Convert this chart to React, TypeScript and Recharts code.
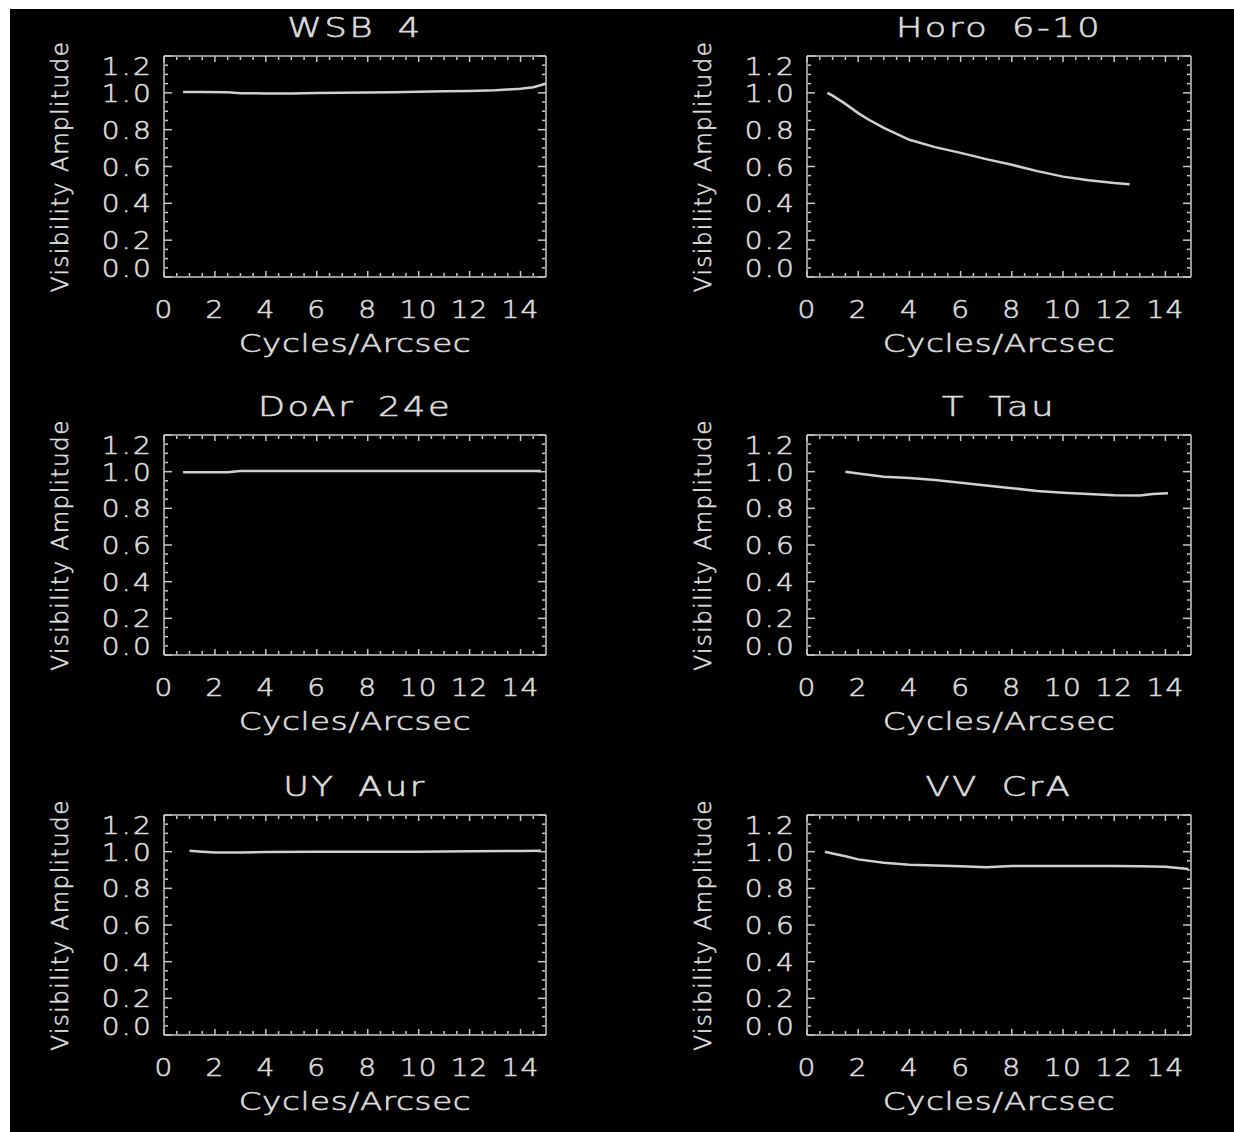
import React from "react";
import { Line, LineChart, XAxis, YAxis } from "recharts";

// visibility amplitude vs spatial frequency, one pair of arrays per star
const titles = ["WSB 4", "Horo 6-10", "DoAr 24e", "T Tau", "UY Aur", "VV CrA"];

const wsb4Freq = [0.75, 1.5, 2.5, 3, 4, 5, 6, 7, 8, 9, 10, 11, 12, 13, 13.5, 14, 14.5, 15];
const wsb4Vis = [1.005, 1.005, 1.003, 0.998, 0.997, 0.997, 0.999, 1.0, 1.002, 1.003, 1.006, 1.008, 1.01, 1.014, 1.018, 1.022, 1.03, 1.05];

const horoFreq = [0.8, 1, 1.5, 2, 2.4, 3, 4, 5, 6, 7, 8, 9, 10, 11, 12, 12.6];
const horoVis = [1.0, 0.985, 0.94, 0.89, 0.855, 0.81, 0.745, 0.705, 0.674, 0.64, 0.609, 0.575, 0.545, 0.525, 0.51, 0.503];

const doarFreq = [0.75, 1.5, 2.5, 3, 4, 6, 8, 10, 12, 14, 14.8];
const doarVis = [0.997, 0.997, 0.997, 1.003, 1.003, 1.004, 1.004, 1.004, 1.003, 1.003, 1.003];

const ttauFreq = [1.5, 2, 3, 4, 5, 6, 7, 8, 9, 10, 11, 12, 13, 13.5, 14.1];
const ttauVis = [1.0, 0.99, 0.972, 0.965, 0.955, 0.94, 0.925, 0.91, 0.895, 0.885, 0.878, 0.872, 0.87, 0.878, 0.882];

const uyaurFreq = [1, 1.5, 2, 3, 4, 6, 8, 10, 12, 14, 14.8];
const uyaurVis = [1.005, 1.0, 0.995, 0.995, 0.998, 1.0, 1.0, 1.0, 1.002, 1.004, 1.005];

const vvcraFreq = [0.7, 1, 1.5, 2, 3, 4, 5, 6, 7, 8, 9, 10, 11, 12, 13, 14, 14.9];
const vvcraVis = [1.0, 0.99, 0.975, 0.958, 0.94, 0.928, 0.924, 0.92, 0.915, 0.922, 0.922, 0.922, 0.922, 0.922, 0.92, 0.918, 0.905];

const xTicks = [0, 2, 4, 6, 8, 10, 12, 14];
const xMinorTicks = [0.5, 1, 1.5, 2.5, 3, 3.5, 4.5, 5, 5.5, 6.5, 7, 7.5, 8.5, 9, 9.5, 10.5, 11, 11.5, 12.5, 13, 13.5, 14.5];
const yTicks = [0, 0.2, 0.4, 0.6, 0.8, 1.0, 1.2];
const yMinorTicks = [0.05, 0.1, 0.15, 0.25, 0.3, 0.35, 0.45, 0.5, 0.55, 0.65, 0.7, 0.75, 0.85, 0.9, 0.95, 1.05, 1.1, 1.15];

const series = [
  { freq: wsb4Freq, vis: wsb4Vis },
  { freq: horoFreq, vis: horoVis },
  { freq: doarFreq, vis: doarVis },
  { freq: ttauFreq, vis: ttauVis },
  { freq: uyaurFreq, vis: uyaurVis },
  { freq: vvcraFreq, vis: vvcraVis },
];

const FONT = "'DejaVu Sans', 'Liberation Sans', sans-serif";
const INK = "#dcdcdc";
const FRAME = "#c8c8c8";

const COLS = [
  { pl: 164, pr: 546 },
  { pl: 807, pr: 1191 },
];
const ROWS = [
  { pt: 56, pb: 277 },
  { pt: 435, pb: 655 },
  { pt: 815, pb: 1035 },
];

const ML = 44;
const YW = 110;
const MT = 50;
const XH = 90;

// thin vector-font look: extra-light face with a hairline stroke
const textStyle = { fontFamily: FONT, fontWeight: 200, fill: INK, stroke: INK, strokeWidth: 0.6 } as const;

const noLabel = () => <g />;

function XTickLabel(props: any) {
  const { x, y, payload } = props;
  return (
    <text transform={`translate(${x} ${y + 41}) scale(1.12 1)`} x={0} y={0} textAnchor="middle" fontSize={25} letterSpacing={1} {...textStyle}>
      {payload.value}
    </text>
  );
}

function YTickLabel(props: any) {
  const { x, y, payload } = props;
  const v = payload.value as number;
  const shift = v >= 1.2 ? 10 : v <= 0 ? -9 : 0;
  return (
    <text transform={`translate(${x - 11} ${y + shift + 9}) scale(1.12 1)`} x={0} y={0} textAnchor="end" fontSize={25} letterSpacing={2} {...textStyle}>
      {v.toFixed(1)}
    </text>
  );
}

function Panel({ idx }: { idx: number }) {
  const col = COLS[idx % 2];
  const row = ROWS[Math.floor(idx / 2)];
  const pw = col.pr - col.pl;
  const ph = row.pb - row.pt;
  const { freq, vis } = series[idx];
  const data = freq.map((u, i) => ({ u, v: vis[i] }));

  const titleLabel = (p: any) => {
    const vb = p.viewBox ?? { x: ML + YW, y: MT, width: pw, height: 1 };
    const cx = vb.x + vb.width / 2;
    return (
      <text
        transform={`translate(${cx} ${MT - 19}) scale(1.3 1)`}
        x={0}
        y={0}
        textAnchor="middle"
        fontSize={27}
        letterSpacing={2}
        wordSpacing={7}
        {...textStyle}
      >
        {titles[idx]}
      </text>
    );
  };
  const xLabel = (p: any) => {
    const vb = p.viewBox ?? { x: ML + YW, y: MT + ph, width: pw, height: XH };
    const cx = vb.x + vb.width / 2;
    return (
      <text transform={`translate(${cx} ${vb.y + 75}) scale(1.3 1)`} x={0} y={0} textAnchor="middle" fontSize={25} letterSpacing={0.5} {...textStyle}>
        Cycles/Arcsec
      </text>
    );
  };
  const yLabel = (p: any) => {
    const vb = p.viewBox ?? { x: ML, y: MT, width: YW, height: ph };
    const cx = vb.x + vb.width - 104;
    const cy = vb.y + vb.height / 2;
    return (
      <text
        x={cx}
        y={cy}
        transform={`rotate(-90 ${cx} ${cy})`}
        textAnchor="middle"
        dominantBaseline="central"
        fontSize={23}
        letterSpacing={1.5}
        {...textStyle}
      >
        Visibility Amplitude
      </text>
    );
  };

  const frame = { stroke: FRAME, strokeWidth: 1.5 };
  const xProps = { type: "number" as const, dataKey: "u", domain: [0, 15], allowDataOverflow: true, interval: 0 as const };
  const yProps = { type: "number" as const, dataKey: "v", domain: [0, 1.2], allowDataOverflow: true, interval: 0 as const };

  return (
    <div style={{ position: "absolute", left: col.pl - ML - YW, top: row.pt - MT }}>
      <LineChart width={pw + ML + YW + 20} height={ph + MT + XH + 5} data={data} margin={{ top: MT, right: 20, bottom: 5, left: ML }}>
        <XAxis xAxisId="main" {...xProps} ticks={xTicks} height={XH} axisLine={false} tickLine={false} tickSize={0} tickMargin={0} tick={XTickLabel} label={{ content: xLabel }} />
        <XAxis xAxisId="bMaj" {...xProps} orientation="bottom" mirror height={1} ticks={xTicks} tick={noLabel} tickSize={6} tickLine={frame} axisLine={frame} />
        <XAxis xAxisId="bMin" {...xProps} orientation="bottom" mirror height={1} ticks={xMinorTicks} tick={noLabel} tickSize={3} tickLine={frame} axisLine={false} />
        <XAxis xAxisId="tMaj" {...xProps} orientation="top" mirror height={1} ticks={xTicks} tick={noLabel} tickSize={6} tickLine={frame} axisLine={frame} label={{ content: titleLabel }} />
        <XAxis xAxisId="tMin" {...xProps} orientation="top" mirror height={1} ticks={xMinorTicks} tick={noLabel} tickSize={3} tickLine={frame} axisLine={false} />
        <YAxis yAxisId="main" {...yProps} ticks={yTicks} width={YW} axisLine={false} tickLine={false} tickSize={0} tickMargin={0} tick={YTickLabel} label={{ content: yLabel }} />
        <YAxis yAxisId="lMaj" {...yProps} orientation="left" mirror width={1} ticks={yTicks} tick={noLabel} tickSize={8} tickLine={frame} axisLine={frame} />
        <YAxis yAxisId="lMin" {...yProps} orientation="left" mirror width={1} ticks={yMinorTicks} tick={noLabel} tickSize={3} tickLine={frame} axisLine={false} />
        <YAxis yAxisId="rMaj" {...yProps} orientation="right" mirror width={1} ticks={yTicks} tick={noLabel} tickSize={8} tickLine={frame} axisLine={frame} />
        <YAxis yAxisId="rMin" {...yProps} orientation="right" mirror width={1} ticks={yMinorTicks} tick={noLabel} tickSize={3} tickLine={frame} axisLine={false} />
        <Line xAxisId="main" yAxisId="main" type="linear" dataKey="v" stroke="#d0d0d0" strokeWidth={2.5} dot={false} isAnimationActive={false} />
      </LineChart>
    </div>
  );
}

export default function App() {
  return (
    <div style={{ position: "absolute", left: 0, top: 0, width: 1234, height: 1132, background: "#fff", overflow: "hidden" }}>
      <div style={{ position: "absolute", left: 10, top: 9, width: 1224, height: 1123, background: "#000" }} />
      {titles.map((t, i) => (
        <Panel key={t} idx={i} />
      ))}
    </div>
  );
}
